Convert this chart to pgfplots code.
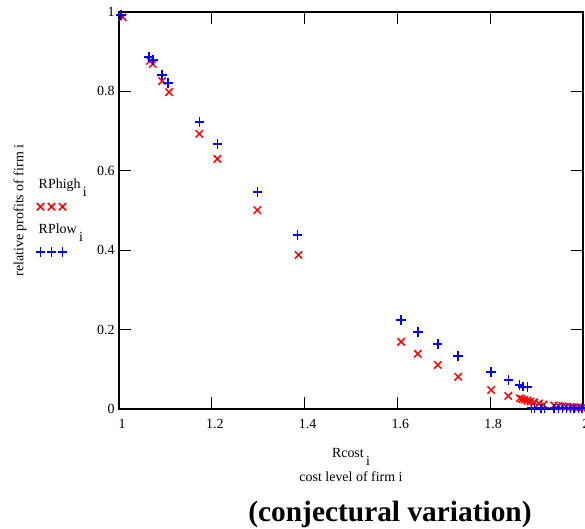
\documentclass[border=0pt]{standalone}
\usepackage{pgfplots}
\pgfplotsset{compat=1.18}
\usepackage{fontspec}
\setmainfont{Liberation Serif}
\newcommand\sub[1]{\,\raisebox{-0.55em}{#1}}
\begin{document}
\begin{tikzpicture}[font=\fontsize{14}{16}\selectfont]
\begin{axis}[
  scale only axis, width=464bp, height=397bp,
  xmin=1, xmax=2, ymin=0, ymax=1,
  xtick={1,1.2,1.4,1.6,1.8,2}, xticklabels={1,1.2,1.4,1.6,1.8,2},
  ytick={0,0.2,0.4,0.6,0.8,1}, yticklabels={0,0.2,0.4,0.6,0.8,1},
  /pgf/number format/assume math mode=true,
  tick align=inside, major tick length=12bp,
  axis line style={line width=1.5bp},
  every tick/.style={black, line width=1bp},
  tick label style={font=\fontsize{14}{16}\selectfont},
  xticklabel style={yshift=-7bp, xshift=3bp},
  yticklabel style={xshift=-1bp},
  clip=false,
  every axis y label/.style={at={(axis description cs:-0.2134,0.5)}, rotate=90, anchor=center},
  ylabel={relative profits of firm i},
  every axis x label/.style={at={(axis description cs:0.5,-0.09)}, anchor=north, align=center},
  xlabel={Rcost\sub{i}\\[6bp]cost level of firm i},
  title={(conjectural variation)},
  title style={at={(axis description cs:0.584,-0.2795)}, anchor=center, font=\bfseries\fontsize{29.5}{34}\selectfont},
  legend style={at={(axis description cs:-0.185,0.5895)}, anchor=north west, draw=none, fill=none, row sep=30bp, cells={anchor=west}},
  legend image code/.code={\path (0,0); \path[#1,overlay] plot[only marks] coordinates {(4bp,-22bp)(15bp,-22bp)(26bp,-22bp)};},
]
\addplot[only marks, mark=x, mark size=5.2bp, red, mark options={line width=1.5bp}] coordinates {
(1.008,0.987) (1.067,0.877) (1.073,0.869) (1.093,0.826) (1.108,0.798)
(1.173,0.693) (1.212,0.630) (1.298,0.501) (1.387,0.388) (1.608,0.169)
(1.644,0.139) (1.687,0.111) (1.731,0.081) (1.802,0.048) (1.839,0.033)
(1.864,0.027) (1.869,0.025) (1.874,0.023) (1.880,0.021) (1.887,0.019)
(1.895,0.017) (1.905,0.014) (1.915,0.011)
(1.938,0.009) (1.947,0.008) (1.956,0.007) (1.964,0.006) (1.973,0.005)
(1.981,0.005) (1.990,0.004) (1.998,0.003)
};
\addlegendentry{RPhigh\sub{i}}
\addplot[only marks, mark=+, mark size=4.7bp, blue, mark options={line width=1.5bp}] coordinates {
(1.004,0.992) (1.065,0.887) (1.073,0.879) (1.093,0.841) (1.106,0.821)
(1.173,0.723) (1.212,0.667) (1.298,0.547) (1.385,0.438) (1.608,0.224)
(1.644,0.194) (1.687,0.164) (1.731,0.134) (1.802,0.093) (1.839,0.073)
(1.863,0.060) (1.871,0.056) (1.880,0.055)
(1.889,0.002) (1.895,0.002) (1.910,0.002) (1.917,0.002)
(1.938,0.002) (1.947,0.002) (1.956,0.002) (1.964,0.002) (1.973,0.002)
(1.981,0.002) (1.990,0.002) (1.998,0.002)
};
\addlegendentry{RPlow\sub{i}}
\coordinate (sw) at (rel axis cs:0,0);
\coordinate (ne) at (rel axis cs:1,1);
\end{axis}
\path (sw) ++(-119bp,-120bp) coordinate (a);
\path (ne) ++(2bp,12bp) coordinate (b);
\pgfresetboundingbox
\useasboundingbox (a) rectangle (b);
\end{tikzpicture}
\end{document}
